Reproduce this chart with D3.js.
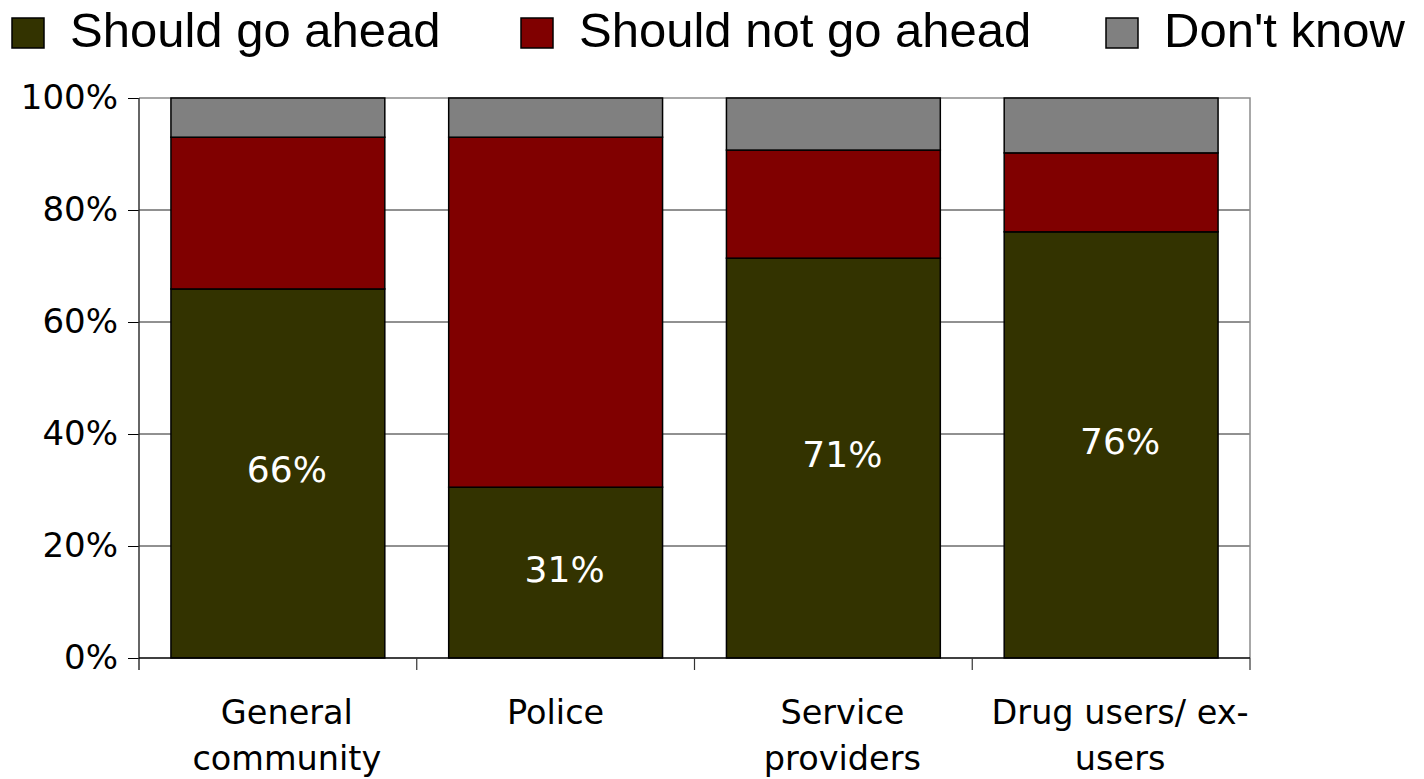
<!DOCTYPE html>
<html>
<head>
<meta charset="utf-8">
<script src="https://cdn.jsdelivr.net/npm/d3@7"></script>
<style>
  body { margin: 0; background: #fff; }
  svg { display: block; }
</style>
</head>
<body>
<svg id="chart" width="1424" height="779"></svg>
<script>
// data
var categories = [["General", "community"], ["Police"], ["Service", "providers"], ["Drug users/ ex-", "users"]];
var seriesNames = ["Should go ahead", "Should not go ahead", "Don't know"];
var goAhead = [65.9, 30.5, 71.4, 76.1];
var notGoAhead = [27.1, 62.5, 19.3, 14.1];
var dontKnow = [7.0, 7.0, 9.3, 9.8];
var yTicks = [0, 20, 40, 60, 80, 100];
var colors = ["#333300", "#800000", "#808080"];

var svg = d3.select("#chart");
var plotLeft = 139, plotRight = 1250, plotTop = 98, plotBottom = 658;

var rows = categories.map(function(c, i) {
  return { cat: c.join(" "), lines: c, go: goAhead[i], not: notGoAhead[i], dk: dontKnow[i] };
});

var xScale = d3.scaleBand()
  .domain(rows.map(function(d) { return d.cat; }))
  .range([plotLeft, plotRight])
  .paddingInner(0.23)
  .paddingOuter(0.115);

var yScale = d3.scaleLinear().domain([0, 100]).range([plotBottom, plotTop]);

var stack = d3.stack().keys(["go", "not", "dk"]);
var layers = stack(rows);

// gridlines
svg.append("g").selectAll("line")
  .data(yTicks.filter(function(t) { return t > 0 && t < 100; }))
  .enter().append("line")
  .attr("x1", plotLeft).attr("x2", plotRight)
  .attr("y1", function(d) { return yScale(d); })
  .attr("y2", function(d) { return yScale(d); })
  .attr("stroke", "#222").attr("stroke-width", 1);

// plot frame top/right
svg.append("path")
  .attr("d", "M" + plotLeft + "," + yScale(100) + "H" + plotRight + "V" + yScale(0))
  .attr("fill", "none").attr("stroke", "#8c8c8c").attr("stroke-width", 1.5);

// bars
svg.append("g").selectAll("g")
  .data(layers)
  .enter().append("g")
  .attr("fill", function(d, i) { return colors[i]; })
  .selectAll("rect")
  .data(function(d) { return d; })
  .enter().append("rect")
  .attr("x", function(d) { return xScale(d.data.cat); })
  .attr("width", xScale.bandwidth())
  .attr("y", function(d) { return yScale(d[1]); })
  .attr("height", function(d) { return yScale(d[0]) - yScale(d[1]); })
  .attr("stroke", "#000").attr("stroke-width", 1.5);

// value labels on the first series
svg.append("g").selectAll("text")
  .data(layers[0])
  .enter().append("text")
  .attr("x", function(d) { return xScale(d.data.cat) + xScale.bandwidth() / 2 + 9; })
  .attr("y", function(d) { return (yScale(d[0]) + yScale(d[1])) / 2 + 9; })
  .attr("text-anchor", "middle")
  .attr("fill", "#fff")
  .style("font-family", "'DejaVu Sans', sans-serif")
  .style("font-size", "36px")
  .text(function(d) { return Math.round(d.data.go) + "%"; });

// y axis
var yAxis = d3.axisLeft(yScale).tickValues(yTicks).tickSize(11).tickPadding(10)
  .tickFormat(function(d) { return d + "%"; });
var yg = svg.append("g").attr("transform", "translate(" + plotLeft + ",0)").call(yAxis);
yg.select(".domain").remove();
yg.selectAll(".tick line").attr("stroke", "#000");
yg.selectAll("text")
  .style("font-family", "'DejaVu Sans', sans-serif")
  .style("font-size", "34px")
  .attr("fill", "#000");
svg.append("line")
  .attr("x1", plotLeft).attr("x2", plotLeft).attr("y1", plotTop).attr("y2", plotBottom + 12)
  .attr("stroke", "#333").attr("stroke-width", 1.5);
svg.append("line")
  .attr("x1", plotLeft).attr("x2", plotRight).attr("y1", plotBottom).attr("y2", plotBottom)
  .attr("stroke", "#000").attr("stroke-width", 1.5);

// x tick marks at category boundaries
var bounds = d3.range(rows.length + 1).map(function(i) {
  return plotLeft + i * (plotRight - plotLeft) / rows.length;
});
svg.append("g").selectAll("line")
  .data(bounds.slice(1))
  .enter().append("line")
  .attr("x1", function(d) { return d; }).attr("x2", function(d) { return d; })
  .attr("y1", plotBottom).attr("y2", plotBottom + 12)
  .attr("stroke", "#333").attr("stroke-width", 1.2);

// category labels
var catText = svg.append("g").selectAll("text")
  .data(rows)
  .enter().append("text")
  .attr("text-anchor", "middle")
  .style("font-family", "'DejaVu Sans', sans-serif")
  .style("font-size", "33.5px")
  .attr("fill", "#000");
catText.selectAll("tspan")
  .data(function(d) { return d.lines.map(function(l) { return { line: l, row: d }; }); })
  .enter().append("tspan")
  .attr("x", function(d) {
    var shift = d.row.lines.length > 1 ? 9 : 0;
    return xScale(d.row.cat) + xScale.bandwidth() / 2 + shift;
  })
  .attr("y", function(d, i) { return 724 + i * 46; })
  .text(function(d) { return d.line; });

// legend
var legendX = [12, 521, 1106];
var legend = svg.append("g").selectAll("g")
  .data(seriesNames)
  .enter().append("g")
  .attr("transform", function(d, i) { return "translate(" + legendX[i] + ",0)"; });
legend.append("rect")
  .attr("x", 0).attr("y", 18).attr("width", 32).attr("height", 30)
  .attr("fill", function(d, i) { return colors[i]; })
  .attr("stroke", "#000").attr("stroke-width", 1.5);
legend.append("text")
  .attr("x", 58).attr("y", 47)
  .style("font-family", "'Liberation Sans', Arial, sans-serif")
  .style("font-size", "49px")
  .attr("fill", "#000")
  .text(function(d) { return d; });
</script>
</body>
</html>
